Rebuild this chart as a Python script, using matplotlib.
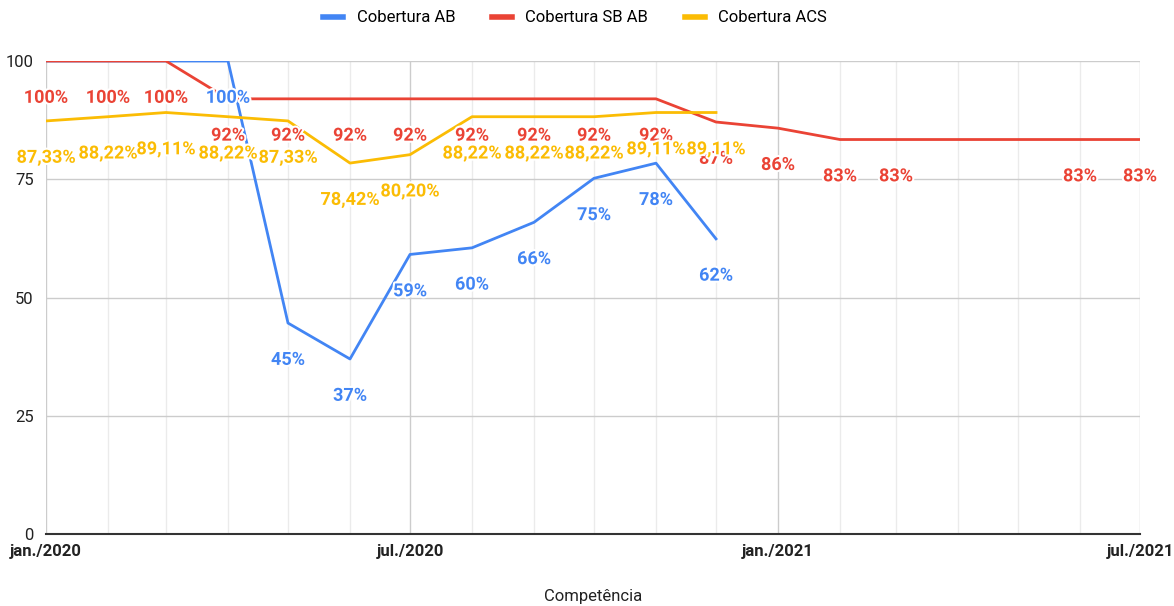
import pandas as pd
import numpy as np
import matplotlib.pyplot as plt
import matplotlib.dates as mdates
import matplotlib.patheffects as pe

# dados
meses_ab = pd.date_range('2020-01-01', '2020-12-01', freq='MS')
cob_ab = [100, 100, 100, 100, 44.6, 37.0, 59.1, 60.5, 65.9, 75.2, 78.4, 62.4]
rot_ab = ['', '', '', '100%', '45%', '37%', '59%', '60%', '66%', '75%', '78%', '62%']

meses_sb = list(pd.date_range('2020-01-01', '2021-01-01', freq='MS')) + \
    list(pd.to_datetime(['2021-02-01', '2021-03-01', '2021-06-01', '2021-07-01']))
cob_sb = [100, 100, 100, 92, 92, 92, 92, 92, 92, 92, 92, 87.1, 85.8, 83.4, 83.4, 83.4, 83.4]
rot_sb = ['100%', '100%', '100%', '92%', '92%', '92%', '92%', '92%', '92%', '92%', '92%',
          '87%', '86%', '83%', '83%', '83%', '83%']

meses_acs = meses_ab
cob_acs = [87.33, 88.22, 89.11, 88.22, 87.33, 78.42, 80.20, 88.22, 88.22, 88.22, 89.11, 89.11]
rot_acs = ['87,33%', '88,22%', '89,11%', '88,22%', '87,33%', '78,42%', '80,20%', '88,22%',
           '88,22%', '88,22%', '89,11%', '89,11%']

azul, vermelho, amarelo = '#4285F4', '#EA4335', '#FBBC04'

plt.rcParams['font.family'] = ['Roboto', 'DejaVu Sans']

fig = plt.figure(figsize=(11.74, 6.06), dpi=100)
ax = fig.add_axes([46 / 1174, 1 - 534 / 606, (1140 - 46) / 1174, (534 - 61) / 606])

ax.plot(meses_ab, cob_ab, color=azul, lw=2, label='Cobertura AB', zorder=3)
ax.plot(meses_sb, cob_sb, color=vermelho, lw=2, label='Cobertura SB AB', zorder=3)
ax.plot(meses_acs, cob_acs, color=amarelo, lw=2, label='Cobertura ACS', zorder=3)

halo = [pe.withStroke(linewidth=3, foreground='white')]
for meses, vals, rots, cor in [(meses_sb, cob_sb, rot_sb, vermelho),
                                (meses_ab, cob_ab, rot_ab, azul),
                                (meses_acs, cob_acs, rot_acs, amarelo)]:
    for m, v, r in zip(meses, vals, rots):
        if r:
            ax.annotate(r, (m, v), xytext=(0, -26.5), textcoords='offset points',
                        ha='center', va='center', color=cor, fontsize=13,
                        fontweight='bold', path_effects=halo, zorder=4)

ax.set_ylim(0, 100)
ax.set_xlim(pd.Timestamp('2020-01-01'), pd.Timestamp('2021-07-01'))
ax.set_yticks([0, 25, 50, 75, 100])
ax.xaxis.set_minor_locator(mdates.MonthLocator())
ax.set_xticks(pd.to_datetime(['2020-01-01', '2020-07-01', '2021-01-01', '2021-07-01']))
ax.set_xticklabels(['jan./2020', 'jul./2020', 'jan./2021', 'jul./2021'],
                   fontsize=12, fontweight='bold', family=['Liberation Sans Narrow', 'Roboto'])

ax.grid(axis='y', color='#cccccc', lw=1)
ax.grid(axis='x', which='major', color='#cccccc', lw=1)
ax.grid(axis='x', which='minor', color='#ebebeb', lw=1)
ax.set_axisbelow(True)
for s in ['top', 'right', 'left']:
    ax.spines[s].set_visible(False)
ax.spines['bottom'].set_color('#333333')
ax.spines['bottom'].set_linewidth(1.5)
ax.tick_params(axis='both', which='both', length=0)
ax.tick_params(axis='y', labelsize=12, colors='#222222', pad=9)
ax.tick_params(axis='x', pad=7, colors='#222222')

fig.text(593 / 1174, 1 - 597 / 606, 'Competência', ha='center', va='center',
         fontsize=12, color='#222222', family=['Liberation Sans Narrow', 'Roboto'])

fig.legend(loc='center', bbox_to_anchor=(575 / 1174, 1 - 18 / 606), ncol=3, frameon=False,
           fontsize=12, handlelength=1.2, columnspacing=2.2, handletextpad=0.8)
for h in fig.legends[0].get_lines():
    h.set_linewidth(4)

fig.savefig('out.png', dpi=100)
